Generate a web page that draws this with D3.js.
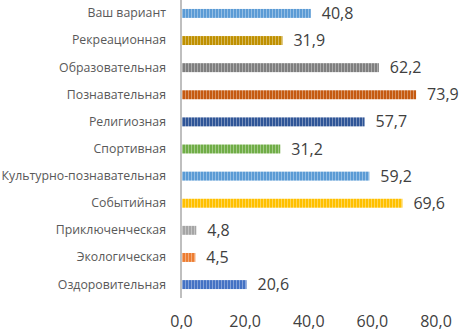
<!DOCTYPE html>
<html><head><meta charset="utf-8">
<script src="https://cdn.jsdelivr.net/npm/d3@7"></script>
<style>body{margin:0;background:#fff}svg{display:block}</style>
</head><body><svg id="c" width="462" height="331"></svg>
<script>
const categories = ["Ваш вариант","Рекреационная","Образовательная","Познавательная","Религиозная","Спортивная","Культурно-познавательная","Событийная","Приключенческая","Экологическая","Оздоровительная"];
const values = [40.8,31.9,62.2,73.9,57.7,31.2,59.2,69.6,4.8,4.5,20.6];
const colors = ["#5b9bd5","#bf9000","#7f7f7f","#c55a11","#2f5597","#70ad47","#5b9bd5","#ffc000","#a5a5a5","#ed7d31","#4472c4"];
const xTicks = [0,20,40,60,80];
const fmt = v => v.toFixed(1).replace(".", ",");

const svg = d3.select("#c");
const x = d3.scaleLinear().domain([0,80]).range([181,435.5]);
const y = d3.scaleBand().domain(categories).range([0,298]).paddingInner(0.67).paddingOuter(0.33);

const defs = svg.append("defs");
colors.forEach((c,i)=>{
  const p = defs.append("pattern").attr("id","p"+i).attr("patternUnits","userSpaceOnUse")
    .attr("width",3).attr("height",10);
  p.append("rect").attr("width",3).attr("height",10).attr("fill",c);
  p.append("rect").attr("x",2).attr("width",1).attr("height",10).attr("fill","#fff").attr("opacity",0.35);
});

svg.selectAll("rect.bar").data(values).join("rect").attr("class","bar")
  .attr("x",x(0)+1).attr("y",(d,i)=>y(categories[i]))
  .attr("width",d=>x(d)-x(0)-1).attr("height",y.bandwidth())
  .attr("fill",(d,i)=>`url(#p${i})`);

svg.selectAll("text.val").data(values).join("text").attr("class","val")
  .attr("x",d=>x(d)+11).attr("y",(d,i)=>y(categories[i])+y.bandwidth()/2)
  .attr("dy","0.35em").attr("font-family","Open Sans").attr("font-size",16)
  .attr("fill","#404040").text(fmt);

const yAxis = svg.append("g").attr("transform",`translate(${x(0)},0)`)
  .call(d3.axisLeft(y).tickSize(0).tickPadding(15));
yAxis.select(".domain").attr("stroke","#bfbfbf").attr("stroke-width",2).attr("d","M0,0V298");
yAxis.selectAll("text").attr("font-family","Open Sans").attr("font-size",12.3).attr("fill","#595959");

const xAxis = svg.append("g").attr("transform",`translate(0,312)`)
  .call(d3.axisBottom(x).tickValues(xTicks).tickFormat(fmt).tickSize(0).tickPadding(4));
xAxis.select(".domain").remove();
xAxis.selectAll("text").attr("font-family","Open Sans").attr("font-size",16).attr("fill","#404040");
</script></body></html>
